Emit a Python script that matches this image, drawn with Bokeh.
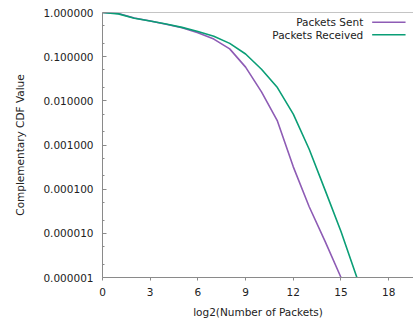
from bokeh.plotting import figure
from bokeh.models import FixedTicker, PrintfTickFormatter, Range1d, Span, Label
from bokeh.embed import file_html
from bokeh.resources import INLINE

# --- data ---
sent_x = [0, 1, 2, 3, 4, 5, 6, 7, 8, 9, 10, 11, 12, 13, 14, 15]
sent_y = [1.0, 0.95, 0.75, 0.64, 0.54, 0.45, 0.35, 0.25, 0.15, 0.058,
          0.016, 0.0035, 3.2e-4, 4.0e-5, 6.6e-6, 1.0e-6]
recv_x = [0, 1, 2, 3, 4, 5, 6, 7, 8, 9, 10, 11, 12, 13, 14, 15, 16]
recv_y = [1.0, 0.93, 0.74, 0.64, 0.55, 0.46, 0.37, 0.29, 0.2, 0.115,
          0.052, 0.020, 0.005, 8.0e-4, 9.5e-5, 1.1e-5, 1.0e-6]

x_ticks = [0, 3, 6, 9, 12, 15, 18]
y_ticks = [1e-6, 1e-5, 1e-4, 1e-3, 1e-2, 1e-1, 1.0]
y_minor = [m * 10.0 ** k for k in range(-6, 0) for m in (2, 5)]

series_names = ["Packets Sent", "Packets Received"]
colors = ["#8e5cb5", "#0a9e76"]

FONT = "DejaVu Sans"
FS = "10.5px"
AXIS_COLOR = "#8a8a8a"

p = figure(width=413, height=320, output_backend="svg", toolbar_location=None,
           y_axis_type="log",
           x_range=Range1d(0, 19.56), y_range=Range1d(1e-6, 1.0),
           min_border_left=102, min_border_right=0, min_border_top=12,
           min_border_bottom=43)
p.outline_line_color = None
p.grid.visible = False
p.background_fill_color = "white"
p.border_fill_color = "white"

p.line(sent_x, sent_y, line_color=colors[0], line_width=1.6)
p.line(recv_x, recv_y, line_color=colors[1], line_width=1.6)

# top border
p.add_layout(Span(location=1.0, dimension="width", line_color=AXIS_COLOR, line_width=1))

# axes
xa = p.xaxis[0]
xa.ticker = FixedTicker(ticks=x_ticks)
xa.axis_label = "log2(Number of Packets)"
xa.major_tick_in = 0
xa.major_tick_out = 3
xa.minor_tick_in = 0
xa.minor_tick_out = 0
xa.major_label_standoff = 7
xa.axis_label_standoff = 7

ya = p.yaxis[0]
ya.ticker = FixedTicker(ticks=y_ticks, minor_ticks=y_minor)
ya.formatter = PrintfTickFormatter(format="%.6f")
ya.axis_label = "Complementary CDF Value"
ya.major_tick_in = 4
ya.major_tick_out = 0
ya.minor_tick_in = 2
ya.minor_tick_out = 0
ya.major_label_standoff = 9
ya.axis_label_standoff = 14

for ax in (xa, ya):
    ax.axis_line_color = AXIS_COLOR
    ax.major_tick_line_color = AXIS_COLOR
    ax.minor_tick_line_color = AXIS_COLOR
    ax.major_label_text_font = FONT
    ax.major_label_text_font_size = FS
    ax.major_label_text_color = "#222222"
    ax.axis_label_text_font = FONT
    ax.axis_label_text_font_size = FS
    ax.axis_label_text_font_style = "normal"
    ax.axis_label_text_color = "#222222"

# gnuplot-style key: text right-aligned, line sample to the right
key_text_x = 16.40
key_line_x0 = 16.96
key_line_x1 = 19.06
key_rows_y = [0.603, 0.3126]
for name, col, ky in zip(series_names, colors, key_rows_y):
    p.add_layout(Label(x=key_text_x, y=ky, text=name, text_align="right",
                       text_baseline="middle", text_font=FONT,
                       text_font_size=FS, text_color="#222222"))
    p.segment(x0=[key_line_x0], y0=[ky], x1=[key_line_x1], y1=[ky],
              line_color=col, line_width=1.6)

open("out.html", "w").write(file_html(p, INLINE))
